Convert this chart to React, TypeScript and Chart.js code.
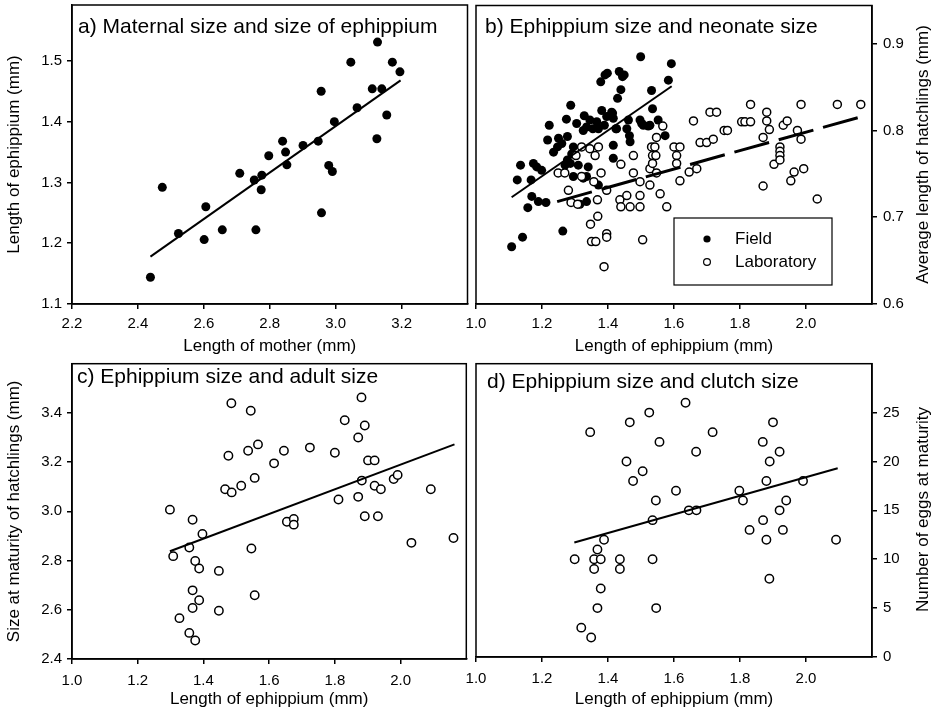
import React, { useEffect, useRef } from 'react';
import { Chart, registerables } from 'chart.js';

Chart.register(...registerables);

const FONT = '"Liberation Sans", Arial, Helvetica, sans-serif';

// ---------- Panel a: maternal size vs ephippium size ----------
const aMotherLength = [2.438, 2.474, 2.523, 2.601, 2.606, 2.656, 2.709, 2.753, 2.758, 2.774, 2.776, 2.797, 2.839, 2.848, 2.852, 2.901, 2.947, 2.956, 2.957, 2.979, 2.99, 2.996, 3.046, 3.065, 3.111, 3.125, 3.127, 3.14, 3.155, 3.172, 3.195];
const aEphippium = [1.144, 1.292, 1.216, 1.206, 1.26, 1.222, 1.315, 1.304, 1.222, 1.288, 1.312, 1.344, 1.368, 1.35, 1.329, 1.361, 1.368, 1.45, 1.25, 1.328, 1.318, 1.4, 1.498, 1.423, 1.454, 1.372, 1.531, 1.454, 1.411, 1.498, 1.482];
const aFitX = [2.438, 3.197];
const aFitY = [1.178, 1.468];

// ---------- Panel b: ephippium size vs neonate size ----------
const bFieldX = [1.499, 1.592, 1.583, 1.532, 1.378, 1.391, 1.398, 1.434, 1.444, 1.439, 1.429, 1.287, 1.535, 1.328, 1.274, 1.222, 1.381, 1.411, 1.396, 1.345, 1.366, 1.305, 1.416, 1.389, 1.371, 1.354, 1.335, 1.325, 1.462, 1.457, 1.426, 1.465, 1.467, 1.497, 1.507, 1.527, 1.552, 1.573, 1.217, 1.25, 1.277, 1.26, 1.235, 1.247, 1.295, 1.29, 1.277, 1.27, 1.286, 1.31, 1.34, 1.295, 1.325, 1.335, 1.416, 1.416, 1.135, 1.184, 1.174, 1.199, 1.125, 1.167, 1.169, 1.189, 1.212, 1.157, 1.371, 1.315, 1.335, 1.263, 1.141, 1.108, 1.449, 1.414, 1.502, 1.522, 1.424];
const bFieldY = [0.885, 0.877, 0.858, 0.846, 0.856, 0.864, 0.866, 0.868, 0.862, 0.847, 0.837, 0.829, 0.825, 0.817, 0.813, 0.806, 0.823, 0.821, 0.816, 0.812, 0.81, 0.808, 0.814, 0.806, 0.802, 0.802, 0.804, 0.8, 0.812, 0.802, 0.802, 0.794, 0.787, 0.812, 0.806, 0.806, 0.812, 0.794, 0.789, 0.791, 0.793, 0.785, 0.775, 0.781, 0.781, 0.773, 0.766, 0.76, 0.762, 0.76, 0.758, 0.747, 0.745, 0.747, 0.783, 0.768, 0.76, 0.758, 0.762, 0.754, 0.743, 0.743, 0.724, 0.718, 0.717, 0.711, 0.737, 0.715, 0.718, 0.684, 0.677, 0.666, 0.864, 0.82, 0.808, 0.805, 0.802];
const bLabX = [1.249, 1.269, 1.28, 1.288, 1.308, 1.303, 1.32, 1.32, 1.345, 1.357, 1.361, 1.371, 1.379, 1.368, 1.396, 1.369, 1.347, 1.35, 1.363, 1.396, 1.396, 1.388, 1.436, 1.439, 1.439, 1.457, 1.467, 1.477, 1.477, 1.497, 1.497, 1.497, 1.505, 1.527, 1.527, 1.535, 1.545, 1.535, 1.532, 1.542, 1.547, 1.547, 1.558, 1.566, 1.578, 1.6, 1.618, 1.608, 1.608, 1.618, 1.646, 1.669, 1.659, 1.679, 1.699, 1.719, 1.709, 1.729, 1.752, 1.762, 1.805, 1.815, 1.832, 1.832, 1.87, 1.87, 1.881, 1.881, 1.889, 1.903, 1.921, 1.921, 1.921, 1.921, 1.931, 1.943, 1.954, 1.964, 1.974, 1.985, 1.985, 1.993, 2.034, 2.095, 2.166];
const bLabY = [0.751, 0.751, 0.731, 0.717, 0.715, 0.771, 0.781, 0.747, 0.779, 0.741, 0.771, 0.781, 0.751, 0.72, 0.731, 0.701, 0.692, 0.672, 0.672, 0.681, 0.677, 0.643, 0.72, 0.712, 0.761, 0.725, 0.712, 0.771, 0.751, 0.741, 0.725, 0.712, 0.674, 0.756, 0.737, 0.771, 0.771, 0.762, 0.781, 0.781, 0.792, 0.751, 0.727, 0.805, 0.712, 0.781, 0.781, 0.771, 0.762, 0.742, 0.752, 0.756, 0.811, 0.786, 0.786, 0.79, 0.821, 0.821, 0.8, 0.8, 0.81, 0.81, 0.81, 0.83, 0.792, 0.736, 0.821, 0.811, 0.801, 0.761, 0.781, 0.776, 0.771, 0.766, 0.806, 0.811, 0.742, 0.752, 0.8, 0.79, 0.83, 0.756, 0.721, 0.83, 0.83];
const bFieldFitX = [1.108, 1.593];
const bFieldFitY = [0.723, 0.851];
const bLabFitX = [1.246, 2.169];
const bLabFitY = [0.718, 0.816];

// ---------- Panel c: ephippium size vs adult size ----------
const cX = [1.298, 1.308, 1.367, 1.357, 1.397, 1.375, 1.387, 1.367, 1.387, 1.367, 1.327, 1.357, 1.375, 1.447, 1.447, 1.466, 1.486, 1.476, 1.485, 1.515, 1.536, 1.544, 1.566, 1.556, 1.546, 1.556, 1.615, 1.645, 1.654, 1.675, 1.675, 1.724, 1.8, 1.811, 1.83, 1.871, 1.871, 1.881, 1.891, 1.882, 1.901, 1.921, 1.921, 1.94, 1.891, 1.931, 1.979, 1.991, 2.033, 2.092, 2.161];
const cY = [3.007, 2.818, 2.966, 2.853, 2.908, 2.798, 2.768, 2.679, 2.639, 2.607, 2.566, 2.506, 2.475, 2.758, 2.596, 3.09, 3.077, 3.226, 3.439, 3.104, 3.246, 3.409, 3.272, 3.136, 2.849, 2.659, 3.195, 3.246, 2.958, 2.969, 2.946, 3.259, 3.238, 3.048, 3.37, 3.059, 3.3, 3.463, 3.349, 3.125, 3.207, 3.207, 3.104, 3.09, 2.98, 2.98, 3.131, 3.148, 2.872, 3.09, 2.892];
const cFitX = [1.298, 2.164];
const cFitY = [2.838, 3.272];

// ---------- Panel d: ephippium size vs clutch size ----------
const dX = [1.299, 1.319, 1.349, 1.346, 1.358, 1.358, 1.368, 1.378, 1.368, 1.378, 1.388, 1.436, 1.436, 1.456, 1.466, 1.476, 1.505, 1.525, 1.535, 1.535, 1.545, 1.556, 1.546, 1.606, 1.635, 1.645, 1.668, 1.667, 1.717, 1.798, 1.809, 1.829, 1.869, 1.87, 1.88, 1.88, 1.89, 1.889, 1.9, 1.92, 1.92, 1.93, 1.94, 1.991, 2.091];
const dY = [10, 3, 2, 23, 10, 9, 11, 10, 5, 7, 12, 10, 9, 20, 24, 18, 19, 25, 14, 10, 16, 22, 5, 17, 26, 15, 15, 21, 23, 17, 16, 13, 22, 14, 18, 12, 20, 8, 24, 15, 21, 13, 16, 18, 12];
const dFitX = [1.298, 2.096];
const dFitY = [11.72, 19.31];

const pts = (xs: number[], ys: number[]) => xs.map((x, i) => ({ x, y: ys[i] }));

const filled = (xs: number[], ys: number[], r: number, order = 2) => ({
  data: pts(xs, ys),
  pointRadius: r,
  pointBackgroundColor: '#000',
  pointBorderColor: '#000',
  pointBorderWidth: 0,
  showLine: false,
  order,
});
const hollow = (xs: number[], ys: number[], r: number, order = 1) => ({
  data: pts(xs, ys),
  pointRadius: r,
  pointBackgroundColor: '#fff',
  pointBorderColor: '#000',
  pointBorderWidth: 1.5,
  showLine: false,
  order,
});
const fit = (xs: number[], ys: number[], width: number, dash: number[] = []) => ({
  data: pts(xs, ys),
  showLine: true,
  pointRadius: 0,
  borderColor: '#000',
  borderWidth: width,
  borderDash: dash,
  borderCapStyle: 'butt',
  fill: false,
  order: 0,
});

type Spec = {
  left: number; top: number; width: number; height: number;
  pad: { left: number; top: number; right: number; bottom: number };
  yWidth: number; xHeight: number;
  xMin: number; xMax: number; xStep: number; xLabelMax: number; xTitle: string;
  yMin: number; yMax: number; yStep: number; yLabelMax: number; yDec: number; yPos: 'left' | 'right';
  yTitle: string;
  xTickPad: number; xTitlePad: number;
  title: string; titleX: number; titleY: number;
  rightTitleX?: number; rightTitleY?: number;
  legend?: { x: number; y: number };
  datasets: any[];
};

const zeroPadding = (ax: any) => {
  ax.paddingTop = 0;
  ax.paddingBottom = 0;
  ax.paddingLeft = 0;
  ax.paddingRight = 0;
};

function buildConfig(s: Spec): any {
  const decorations = {
    id: 'decorations',
    afterDraw(chart: any) {
      const ctx = chart.ctx as CanvasRenderingContext2D;
      const a = chart.chartArea;
      ctx.save();
      ctx.strokeStyle = '#000';
      ctx.lineWidth = 1.5;
      ctx.strokeRect(a.left, a.top, a.right - a.left, a.bottom - a.top);
      ctx.fillStyle = '#000';
      ctx.font = `21px ${FONT}`;
      ctx.textAlign = 'left';
      ctx.textBaseline = 'alphabetic';
      ctx.fillText(s.title, s.titleX, s.titleY);
      if (s.rightTitleX !== undefined) {
        ctx.save();
        ctx.translate(s.rightTitleX, s.rightTitleY!);
        ctx.rotate(-Math.PI / 2);
        ctx.font = `17px ${FONT}`;
        ctx.textAlign = 'center';
        ctx.textBaseline = 'middle';
        ctx.fillText(s.yTitle, 0, 0);
        ctx.restore();
      }
      if (s.legend) {
        const lx = s.legend.x;
        const ly = s.legend.y;
        ctx.lineWidth = 1.2;
        ctx.strokeRect(lx, ly, 158, 67);
        ctx.beginPath();
        ctx.arc(lx + 33, ly + 21, 3.6, 0, Math.PI * 2);
        ctx.fill();
        ctx.beginPath();
        ctx.fillStyle = '#fff';
        ctx.arc(lx + 33, ly + 44, 3.4, 0, Math.PI * 2);
        ctx.fill();
        ctx.stroke();
        ctx.fillStyle = '#000';
        ctx.font = `17px ${FONT}`;
        ctx.textAlign = 'left';
        ctx.textBaseline = 'middle';
        ctx.fillText('Field', lx + 61, ly + 21);
        ctx.fillText('Laboratory', lx + 61, ly + 44);
      }
      ctx.restore();
    },
  };

  const tickFont = { family: FONT, size: 15 };
  const titleFont = { family: FONT, size: 17 };

  return {
    type: 'scatter',
    data: { datasets: s.datasets },
    plugins: [decorations],
    options: {
      responsive: false,
      maintainAspectRatio: false,
      animation: false,
      devicePixelRatio: 1,
      layout: { padding: s.pad },
      plugins: { legend: { display: false }, tooltip: { enabled: false }, title: { display: false } },
      elements: { line: { tension: 0 } },
      scales: {
        x: {
          type: 'linear',
          position: 'bottom',
          min: s.xMin,
          max: s.xMax,
          afterBuildTicks: (ax: any) => {
            ax.ticks = ax.ticks.filter((t: any) => t.value <= s.xLabelMax + 1e-6);
          },
          afterFit: (ax: any) => { ax.height = s.xHeight; zeroPadding(ax); },
          ticks: {
            stepSize: s.xStep,
            color: '#000',
            font: tickFont,
            padding: s.xTickPad,
            autoSkip: false,
            maxRotation: 0,
            callback: (v: any) => Number(v).toFixed(1),
          },
          grid: { drawOnChartArea: false, drawTicks: true, tickLength: 5, color: '#000', lineWidth: 1.5 },
          border: { display: true, color: '#000', width: 1.5 },
          title: { display: true, text: s.xTitle, color: '#000', font: titleFont, padding: { top: 0, bottom: s.xTitlePad } },
        },
        y: {
          type: 'linear',
          position: s.yPos,
          min: s.yMin,
          max: s.yMax,
          afterBuildTicks: (ax: any) => {
            ax.ticks = ax.ticks.filter((t: any) => t.value <= s.yLabelMax + 1e-6);
          },
          afterFit: (ax: any) => { ax.width = s.yWidth; zeroPadding(ax); },
          ticks: {
            stepSize: s.yStep,
            color: '#000',
            font: tickFont,
            padding: s.yPos === 'left' ? 5 : 6,
            autoSkip: false,
            callback: (v: any) => Number(v).toFixed(s.yDec),
          },
          grid: { drawOnChartArea: false, drawTicks: true, tickLength: 5, color: '#000', lineWidth: 1.5 },
          border: { display: true, color: '#000', width: 1.5 },
          title: {
            display: s.yPos === 'left',
            text: s.yTitle,
            color: '#000',
            font: titleFont,
            padding: { top: 4, bottom: 0 },
          },
        },
      },
    },
  };
}

// Right-hand canvases start at x=440 so the "1.0" tick label is not clipped.
const RX = 440;

const specs: Spec[] = [
  {
    left: 0, top: 0, width: 472, height: 358,
    pad: { left: 0, top: 5, right: 2, bottom: 0 }, yWidth: 72, xHeight: 54,
    xMin: 2.2, xMax: 3.4, xStep: 0.2, xLabelMax: 3.2, xTitle: 'Length of mother (mm)',
    yMin: 1.1, yMax: 1.592, yStep: 0.1, yLabelMax: 1.5, yDec: 1, yPos: 'left',
    yTitle: 'Length of ephippium (mm)', xTickPad: 6, xTitlePad: 1,
    title: 'a) Maternal size and size of ephippium', titleX: 78, titleY: 33,
    datasets: [filled(aMotherLength, aEphippium, 4.5), fit(aFitX, aFitY, 2)],
  },
  {
    left: RX, top: 0, width: 941 - RX, height: 358,
    pad: { left: 476 - RX, top: 5, right: 0, bottom: 0 }, yWidth: 69, xHeight: 54,
    xMin: 1.0, xMax: 2.2, xStep: 0.2, xLabelMax: 2.0, xTitle: 'Length of ephippium (mm)',
    yMin: 0.6, yMax: 0.944, yStep: 0.1, yLabelMax: 0.9, yDec: 1, yPos: 'right',
    yTitle: 'Average length of hatchlings (mm)', xTickPad: 6, xTitlePad: 1,
    title: 'b) Ephippium size and neonate size', titleX: 485 - RX, titleY: 33,
    rightTitleX: 923 - RX, rightTitleY: 154.5, legend: { x: 674 - RX, y: 218 },
    datasets: [
      filled(bFieldX, bFieldY, 4.5, 2),
      hollow(bLabX, bLabY, 4, 1),
      fit(bFieldFitX, bFieldFitY, 2),
      fit(bLabFitX, bLabFitY, 3, [36, 10]),
    ],
  },
  {
    left: 0, top: 358, width: 472, height: 352,
    pad: { left: 0, top: 5, right: 2, bottom: 0 }, yWidth: 72, xHeight: 51,
    xMin: 1.0, xMax: 2.2, xStep: 0.2, xLabelMax: 2.0, xTitle: 'Length of ephippium (mm)',
    yMin: 2.4, yMax: 3.6, yStep: 0.2, yLabelMax: 3.4, yDec: 1, yPos: 'left',
    yTitle: 'Size at maturity of hatchlings (mm)', xTickPad: 8, xTitlePad: 0,
    title: 'c) Ephippium size and adult size', titleX: 77, titleY: 25,
    datasets: [hollow(cX, cY, 4.2), fit(cFitX, cFitY, 2)],
  },
  {
    left: RX, top: 358, width: 941 - RX, height: 352,
    pad: { left: 476 - RX, top: 4, right: 0, bottom: 0 }, yWidth: 69, xHeight: 53,
    xMin: 1.0, xMax: 2.2, xStep: 0.2, xLabelMax: 2.0, xTitle: 'Length of ephippium (mm)',
    yMin: 0, yMax: 30, yStep: 5, yLabelMax: 25, yDec: 0, yPos: 'right',
    yTitle: 'Number of eggs at maturity', xTickPad: 8, xTitlePad: 0,
    title: 'd) Ephippium size and clutch size', titleX: 487 - RX, titleY: 30,
    rightTitleX: 923 - RX, rightTitleY: 151.5,
    datasets: [hollow(dX, dY, 4.2), fit(dFitX, dFitY, 2)],
  },
];

function Panel({ spec }: { spec: Spec }) {
  const ref = useRef<HTMLCanvasElement>(null);
  useEffect(() => {
    const chart = new Chart(ref.current as HTMLCanvasElement, buildConfig(spec));
    return () => chart.destroy();
  }, [spec]);
  return (
    <canvas
      ref={ref}
      width={spec.width}
      height={spec.height}
      style={{ position: 'absolute', left: spec.left, top: spec.top, width: spec.width, height: spec.height }}
    />
  );
}

export default function App() {
  return (
    <div style={{ position: 'absolute', left: 0, top: 0, width: 941, height: 710, background: '#fff', overflow: 'hidden' }}>
      {specs.map((s, i) => (
        <Panel key={i} spec={s} />
      ))}
    </div>
  );
}
